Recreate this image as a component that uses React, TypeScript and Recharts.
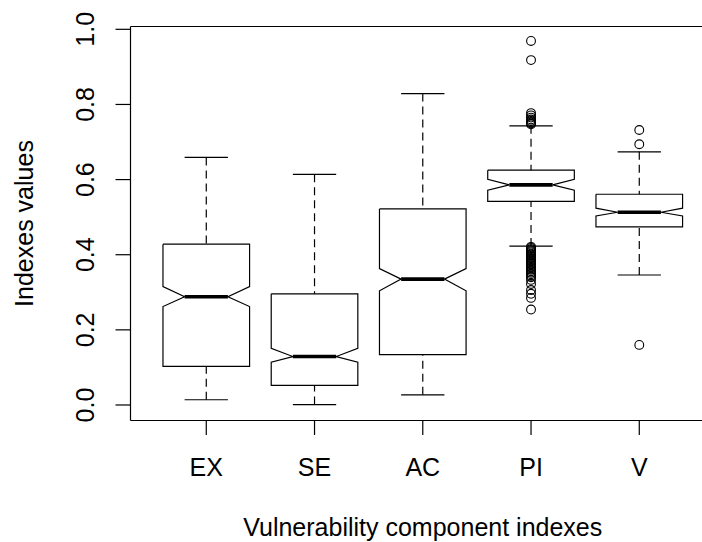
import React from 'react';
import { ScatterChart, Scatter, XAxis, YAxis, ReferenceLine, Label } from 'recharts';

const CATEGORIES = ['EX', 'SE', 'AC', 'PI', 'V'];
const WHISKER_LOW = [0.014, 0.001, 0.027, 0.423, 0.346];
const Q1 = [0.103, 0.052, 0.134, 0.542, 0.474];
const NOTCH_LOW = [0.262, 0.114, 0.304, 0.572, 0.503];
const MEDIAN = [0.288, 0.129, 0.335, 0.586, 0.513];
const NOTCH_HIGH = [0.315, 0.151, 0.363, 0.601, 0.524];
const Q3 = [0.428, 0.296, 0.522, 0.625, 0.561];
const WHISKER_HIGH = [0.659, 0.614, 0.829, 0.743, 0.674];

const OUTLIERS_PI = [
  0.969, 0.918, 0.777, 0.771, 0.765, 0.760, 0.756, 0.752, 0.749, 0.747,
  0.421, 0.418, 0.415, 0.412, 0.409, 0.406, 0.403, 0.400, 0.397, 0.394,
  0.391, 0.388, 0.385, 0.382, 0.379, 0.376, 0.372, 0.368, 0.364, 0.360,
  0.356, 0.352, 0.348, 0.344, 0.340, 0.333, 0.322, 0.306, 0.296, 0.285, 0.254,
];
const OUTLIERS_V = [0.732, 0.694, 0.160];
const OUTLIERS_EX: number[] = [];
const OUTLIERS_SE: number[] = [];
const OUTLIERS_AC: number[] = [];
const OUTLIERS = [OUTLIERS_EX, OUTLIERS_SE, OUTLIERS_AC, OUTLIERS_PI, OUTLIERS_V];

const Y_TICKS = [0, 0.2, 0.4, 0.6, 0.8, 1.0];
const X_TICKS = [1, 2, 3, 4, 5];
const X_DOMAIN: [number, number] = [0.3, 5.7];
const Y_DOMAIN: [number, number] = [-0.0413, 1.0075];

const FONT = '"Liberation Sans", Arial, sans-serif';
const FS = 25;
const BOX_HALF = 0.4;
const NOTCH_HALF = 0.2;
const CAP_HALF = 0.2;
const LW = 1.2;

const Nothing = () => <g />;

const OutlierShape = (p: any) => (
  <circle cx={p.cx} cy={p.cy} r={4.4} fill="none" stroke="#000" strokeWidth={1.1} />
);

const XTick = (p: any) => (
  <text x={p.x} y={p.y + 41} textAnchor="middle" fontFamily={FONT} fontSize={FS} fill="#000">
    {CATEGORIES[p.payload.value - 1]}
  </text>
);

const YTick = (p: any) => {
  const bx = p.x - 21.5;
  return (
    <text
      x={bx}
      y={p.y}
      transform={`rotate(-90 ${bx} ${p.y})`}
      textAnchor="middle"
      fontFamily={FONT}
      fontSize={FS}
      fill="#000"
    >
      {Number(p.payload.value).toFixed(1)}
    </text>
  );
};

const XLabelContent = (p: any) => {
  const vb = p.viewBox || {};
  return (
    <text x={vb.x + vb.width / 2} y={536} textAnchor="middle" fontFamily={FONT} fontSize={FS} fill="#000">
      Vulnerability component indexes
    </text>
  );
};

const YLabelContent = (p: any) => {
  const vb = p.viewBox || {};
  const cy = vb.y + vb.height / 2;
  return (
    <text
      x={33}
      y={cy}
      transform={`rotate(-90 33 ${cy})`}
      textAnchor="middle"
      fontFamily={FONT}
      fontSize={FS}
      fill="#000"
    >
      Indexes values
    </text>
  );
};

export default function App() {
  const series: React.ReactNode[] = [];
  CATEGORIES.forEach((c, i) => {
    const x = i + 1;
    const outline = [
      { x: x - BOX_HALF, y: Q3[i] },
      { x: x + BOX_HALF, y: Q3[i] },
      { x: x + BOX_HALF, y: NOTCH_HIGH[i] },
      { x: x + NOTCH_HALF, y: MEDIAN[i] },
      { x: x + BOX_HALF, y: NOTCH_LOW[i] },
      { x: x + BOX_HALF, y: Q1[i] },
      { x: x - BOX_HALF, y: Q1[i] },
      { x: x - BOX_HALF, y: NOTCH_LOW[i] },
      { x: x - NOTCH_HALF, y: MEDIAN[i] },
      { x: x - BOX_HALF, y: NOTCH_HIGH[i] },
      { x: x - BOX_HALF, y: Q3[i] },
    ];
    const solid = { stroke: '#000', strokeWidth: LW };
    const dashed = { stroke: '#000', strokeWidth: LW, strokeDasharray: '8 5' };
    series.push(
      <Scatter key={`wu-${c}`} data={[{ x, y: WHISKER_HIGH[i] }, { x, y: Q3[i] }]} dataKey="y" line={dashed} lineType="joint" shape={Nothing} isAnimationActive={false} />,
      <Scatter key={`wl-${c}`} data={[{ x, y: WHISKER_LOW[i] }, { x, y: Q1[i] }]} dataKey="y" line={dashed} lineType="joint" shape={Nothing} isAnimationActive={false} />,
      <Scatter key={`cu-${c}`} data={[{ x: x - CAP_HALF, y: WHISKER_HIGH[i] }, { x: x + CAP_HALF, y: WHISKER_HIGH[i] }]} dataKey="y" line={solid} lineType="joint" shape={Nothing} isAnimationActive={false} />,
      <Scatter key={`cl-${c}`} data={[{ x: x - CAP_HALF, y: WHISKER_LOW[i] }, { x: x + CAP_HALF, y: WHISKER_LOW[i] }]} dataKey="y" line={solid} lineType="joint" shape={Nothing} isAnimationActive={false} />,
      <Scatter key={`box-${c}`} data={outline} dataKey="y" line={solid} lineType="joint" shape={Nothing} isAnimationActive={false} />,
      <Scatter key={`med-${c}`} data={[{ x: x - NOTCH_HALF, y: MEDIAN[i] }, { x: x + NOTCH_HALF, y: MEDIAN[i] }]} dataKey="y" line={{ stroke: '#000', strokeWidth: 3.6 }} lineType="joint" shape={Nothing} isAnimationActive={false} />,
    );
    if (OUTLIERS[i].length) {
      series.push(
        <Scatter key={`out-${c}`} data={OUTLIERS[i].map((v) => ({ x, y: v }))} dataKey="y" shape={OutlierShape} isAnimationActive={false} />,
      );
    }
  });

  return (
    <div style={{ position: 'absolute', left: 0, top: 0, width: 702, height: 542, overflow: 'hidden', background: '#fff' }}>
      <ScatterChart width={716} height={542} margin={{ top: 26.5, right: 0.95, bottom: 0, left: 0 }}>
        <XAxis
          type="number"
          dataKey="x"
          domain={X_DOMAIN}
          ticks={X_TICKS}
          allowDataOverflow
          height={121.5}
          tickSize={14.5}
          tickMargin={0}
          tick={<XTick />}
          tickLine={{ stroke: '#000', strokeWidth: LW }}
          axisLine={{ stroke: '#000', strokeWidth: LW }}
        >
          <Label content={<XLabelContent />} />
        </XAxis>
        <YAxis
          type="number"
          dataKey="y"
          domain={Y_DOMAIN}
          ticks={Y_TICKS}
          allowDataOverflow
          width={130.5}
          tickSize={15}
          tickMargin={0}
          tick={<YTick />}
          tickLine={{ stroke: '#000', strokeWidth: LW }}
          axisLine={{ stroke: '#000', strokeWidth: LW }}
        >
          <Label content={<YLabelContent />} />
        </YAxis>
        <ReferenceLine y={Y_DOMAIN[1]} stroke="#000" strokeWidth={LW} />
        <ReferenceLine x={X_DOMAIN[1]} stroke="#000" strokeWidth={LW} />
        {series}
      </ScatterChart>
    </div>
  );
}
